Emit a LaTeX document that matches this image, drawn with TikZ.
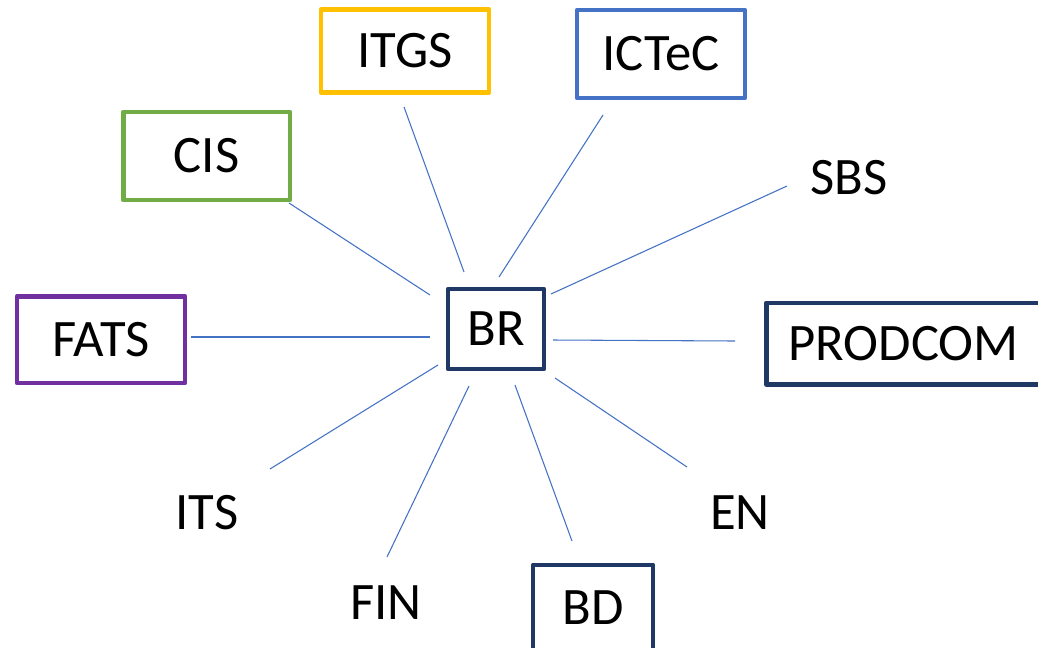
\documentclass[tikz,border=0pt]{standalone}
\usepackage{fontspec}
\setmainfont{Carlito}
\definecolor{cyellow}{HTML}{FFC000}
\definecolor{cblue}{HTML}{4472C4}
\definecolor{cgreen}{HTML}{70AD47}
\definecolor{cpurple}{HTML}{7030A0}
\definecolor{cnavy}{HTML}{203864}
\tikzset{
  lbl/.style={font=\fontsize{39.5}{42}\selectfont, inner sep=0pt},
  bx/.style={lbl, draw=#1, line width=3.5pt, line join=round, rectangle},
  conn/.style={draw=cblue, line width=0.8pt}
}
\begin{document}
\begin{tikzpicture}[x=0.75pt,y=-0.75pt]
\clip (0,0) rectangle (1038,647);
\fill[white] (0,0) rectangle (1038,647);
% boxes
\node[bx=cyellow, minimum width=126pt, minimum height=62pt] (ITGS) at (405,51) {ITGS};
\node[bx=cblue, minimum width=126pt, minimum height=66pt] (ICTeC) at (661,54) {ICTeC};
\node[bx=cgreen, minimum width=125pt, minimum height=66pt] (CIS) at (206.5,156) {CIS};
\node[bx=cpurple, minimum width=126pt, minimum height=65pt] (FATS) at (101,339.5) {FATS};
\node[bx=cnavy, minimum width=72pt, minimum height=60pt] (BR) at (496,329) {BR};
\node[bx=cnavy, minimum width=206pt, minimum height=61pt] (PRODCOM) at (903.5,343.5) {PRODCOM};
\node[bx=cnavy, minimum width=90pt, minimum height=64pt] (BD) at (593,607.5) {BD};
% plain labels
\node[lbl] (SBS) at (849,178) {SBS};
\node[lbl] (ITS) at (207,513) {ITS};
\node[lbl] (FIN) at (386,603) {FIN};
\node[lbl] (EN) at (740,513) {EN};
% connector end points
\coordinate (itgsA) at (404,107); \coordinate (itgsB) at (464,272);
\coordinate (ictecA) at (603,115); \coordinate (ictecB) at (499,277);
\coordinate (sbsA) at (787,186); \coordinate (sbsB) at (551,294);
\coordinate (cisA) at (289,203); \coordinate (cisB) at (430,295);
\coordinate (fatsA) at (191,337); \coordinate (fatsB) at (430,337);
\coordinate (prodA) at (735,341); \coordinate (prodB) at (553,340);
\coordinate (itsA) at (270,469); \coordinate (itsB) at (438,365);
\coordinate (finA) at (387,557); \coordinate (finB) at (469,386);
\coordinate (bdA) at (572,541); \coordinate (bdB) at (515,385);
\coordinate (enA) at (687,467); \coordinate (enB) at (555,378);
\draw[conn] (itgsA) -- (itgsB);
\draw[conn] (ictecA) -- (ictecB);
\draw[conn] (sbsA) -- (sbsB);
\draw[conn] (cisA) -- (cisB);
\draw[conn] (fatsA) -- (fatsB);
\draw[conn] (prodA) -- (prodB);
\draw[conn] (itsA) -- (itsB);
\draw[conn] (finA) -- (finB);
\draw[conn] (bdA) -- (bdB);
\draw[conn] (enA) -- (enB);
\end{tikzpicture}
\end{document}
